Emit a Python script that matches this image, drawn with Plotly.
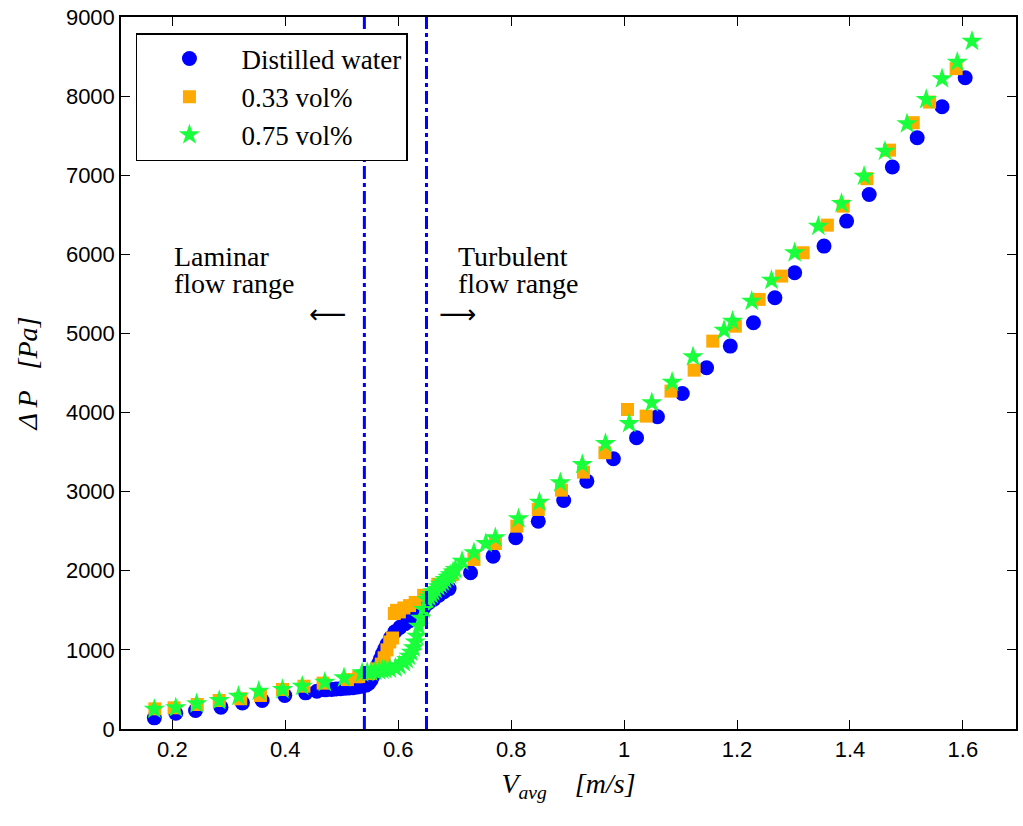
import plotly.graph_objects as go

# Distilled water
water_v = [0.168, 0.206, 0.241, 0.286, 0.324, 0.359, 0.399, 0.436, 0.456, 0.471, 0.482, 0.49,
           0.498, 0.506, 0.513, 0.52, 0.528, 0.536, 0.543, 0.548, 0.552, 0.556, 0.56, 0.564,
           0.568, 0.572, 0.576, 0.58, 0.586, 0.594, 0.603, 0.612, 0.62, 0.628, 0.636, 0.645,
           0.654, 0.663, 0.672, 0.681, 0.69, 0.728, 0.768, 0.808, 0.848, 0.893, 0.934, 0.981,
           1.022, 1.059, 1.103, 1.146, 1.188, 1.229, 1.267, 1.302, 1.354, 1.394, 1.434, 1.475,
           1.519, 1.563, 1.604]
water_dp = [141, 200, 234, 276, 330, 360, 424, 457, 478, 495, 500, 505,
            510, 515, 518, 522, 530, 541, 555, 580, 620, 680, 740, 810,
            880, 950, 1010, 1070, 1150, 1230, 1285, 1330, 1370, 1420, 1470, 1530,
            1595, 1640, 1690, 1735, 1775, 1975, 2185, 2417, 2627, 2889, 3133, 3416,
            3681, 3947, 4241, 4566, 4840, 5135, 5451, 5767, 6104, 6420, 6757, 7103,
            7474, 7866, 8233]

# 0.33 vol%
c033_v = [0.169, 0.203, 0.244, 0.283, 0.321, 0.356, 0.395, 0.433, 0.467, 0.51, 0.53, 0.548,
          0.562, 0.57, 0.575, 0.58, 0.585, 0.59, 0.593, 0.597, 0.602, 0.61, 0.62, 0.63,
          0.645, 0.67, 0.695, 0.734, 0.772, 0.81, 0.848, 0.889, 0.928, 0.966, 1.006, 1.039,
          1.083, 1.124, 1.157, 1.197, 1.239, 1.279, 1.317, 1.36, 1.388, 1.43, 1.47, 1.512,
          1.541, 1.588]
c033_dp = [255, 268, 310, 360, 382, 424, 500, 541, 580, 625, 660, 700,
           760, 820, 900, 1000, 1100, 1150, 1460, 1500, 1480, 1530, 1560, 1600,
           1690, 1830, 1953, 2143, 2345, 2564, 2775, 3019, 3247, 3492, 4039, 3955,
           4271, 4536, 4903, 5092, 5430, 5725, 6020, 6369, 6609, 6956, 7317, 7664,
           7924, 8347]

# 0.75 vol%
c075_v = [0.168, 0.206, 0.243, 0.283, 0.317, 0.353, 0.395, 0.43, 0.47, 0.504, 0.536, 0.545,
          0.552, 0.559, 0.566, 0.572, 0.577, 0.585, 0.595, 0.602, 0.61, 0.615, 0.619, 0.623,
          0.627, 0.63, 0.633, 0.636, 0.64, 0.645, 0.651, 0.655, 0.659, 0.662, 0.666, 0.671,
          0.675, 0.679, 0.683, 0.688, 0.692, 0.697, 0.701, 0.713, 0.734, 0.755, 0.772, 0.813,
          0.85, 0.887, 0.926, 0.967, 1.009, 1.049, 1.085, 1.122, 1.177, 1.192, 1.226, 1.261,
          1.302, 1.344, 1.385, 1.425, 1.462, 1.501, 1.535, 1.563, 1.59, 1.616]
c075_dp = [250, 270, 320, 360, 415, 478, 500, 540, 590, 647, 710, 715,
           722, 731, 738, 745, 752, 760, 773, 800, 837, 880, 920, 970,
           1026, 1100, 1173, 1300, 1400, 1511, 1637, 1670, 1700, 1735, 1764, 1800,
           1830, 1860, 1890, 1920, 1950, 1985, 2016, 2122, 2228, 2345, 2417, 2657,
           2867, 3112, 3344, 3609, 3862, 4124, 4384, 4706, 5042, 5156, 5409, 5674,
           6020, 6357, 6643, 6989, 7305, 7651, 7958, 8220, 8430, 8695]

laminar_limit = 0.54
turbulent_limit = 0.65

x_ticks = [0.2, 0.4, 0.6, 0.8, 1.0, 1.2, 1.4, 1.6]
x_tick_text = ["0.2", "0.4", "0.6", "0.8", "1", "1.2", "1.4", "1.6"]
y_ticks = [0, 1000, 2000, 3000, 4000, 5000, 6000, 7000, 8000, 9000]

fig = go.Figure()
fig.add_trace(go.Scatter(x=water_v, y=water_dp, mode="markers", name="Distilled water",
                         marker=dict(symbol="circle", size=15, color="#0000FF", line=dict(width=0))))
fig.add_trace(go.Scatter(x=c033_v, y=c033_dp, mode="markers", name="0.33 vol%",
                         marker=dict(symbol="square", size=13, color="#FFAA00", line=dict(width=0))))
fig.add_trace(go.Scatter(x=c075_v, y=c075_dp, mode="markers", name="0.75 vol%",
                         marker=dict(symbol="star", size=16, color="#19FF3C", line=dict(width=0))))

for xv in (laminar_limit, turbulent_limit):
    fig.add_shape(type="line", x0=xv, x1=xv, xref="x", y0=0, y1=1, yref="paper",
                  line=dict(color="#0000FF", width=3, dash="13px,4px,4px,4px"))

serif = "Liberation Serif, Times New Roman, serif"


def two_lines(a, b):
    s = "<span style='font-size:28px'>%s</span>"
    return (s % a) + "<br>" + (s % b)


for xv, line1 in ((0.2, "Laminar"), (0.702, "Turbulent")):
    fig.add_annotation(x=xv, y=5800, xref="x", yref="y", xanchor="left", yanchor="middle",
                       text=two_lines(line1, "flow range"), showarrow=False, align="left",
                       font=dict(family=serif, size=21, color="black"))
fig.add_annotation(x=0.475, y=5250, xref="x", yref="y", text="\u27f5", showarrow=False,
                   font=dict(family="DejaVu Sans", size=26, color="black"))
fig.add_annotation(x=0.705, y=5250, xref="x", yref="y", text="\u27f6", showarrow=False,
                   font=dict(family="DejaVu Sans", size=26, color="black"))

axis_common = dict(showgrid=False, zeroline=False, showline=True, linecolor="black", linewidth=1.5,
                   mirror="ticks", ticks="inside", ticklen=9, tickwidth=1, tickcolor="black",
                   tickfont=dict(family="Liberation Sans, Arial, sans-serif", size=22, color="black"))

fig.update_xaxes(range=[0.109, 1.694], tickvals=x_ticks, ticktext=x_tick_text,
                 title=dict(text="<i>V<sub>avg</sub>\u00a0\u00a0\u00a0\u00a0[m/s]</i>",
                            font=dict(family=serif, size=28, color="black"), standoff=12),
                 **axis_common)
fig.update_yaxes(range=[0, 9000], tickvals=y_ticks,
                 title=dict(text="<i>\u0394\u2009P\u00a0\u00a0\u00a0[Pa]</i>",
                            font=dict(family=serif, size=28, color="black"), standoff=20),
                 **axis_common)

fig.update_layout(
    width=1023, height=826,
    margin=dict(l=121, r=5, t=17, b=97),
    plot_bgcolor="white", paper_bgcolor="white",
    showlegend=True,
    legend=dict(x=0.0167, y=0.9775, xanchor="left", yanchor="top",
                bgcolor="white", bordercolor="black", borderwidth=1.5,
                font=dict(family=serif, size=27, color="black"),
                itemwidth=94),
)

fig.write_html("out.html")
